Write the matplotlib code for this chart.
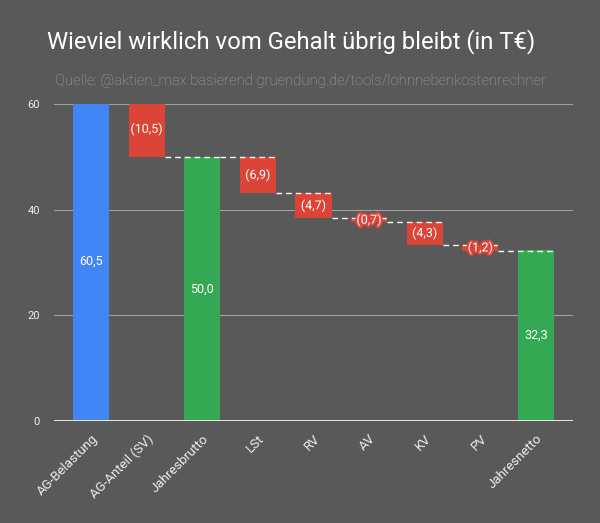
import matplotlib
matplotlib.use("Agg")
import matplotlib.pyplot as plt
import matplotlib.patheffects as pe

categories = ["AG-Belastung", "AG-Anteil (SV)", "Jahresbrutto", "LSt", "RV", "AV", "KV", "PV", "Jahresnetto"]
values = [60.5, -10.5, 50.0, -6.9, -4.7, -0.7, -4.3, -1.2, 32.3]
kinds = ["total_blue", "delta", "total", "delta", "delta", "delta", "delta", "delta", "total"]
yticks = [0, 20, 40, 60]

BG = "#595959"
BLUE = "#4285F4"
RED = "#DB4437"
GREEN = "#34A853"

plt.rcParams['font.family'] = ['Roboto', 'DejaVu Sans']

fig = plt.figure(figsize=(6.0, 5.23), dpi=100, facecolor=BG)
ax = fig.add_axes([54/600, 102/523, 519/600, 317/523], facecolor=BG)

w = 0.65
level = 0.0
bottoms, heights, colors = [], [], []
for v, k in zip(values, kinds):
    if k.startswith("total"):
        bottoms.append(0.0)
        heights.append(v)
        colors.append(BLUE if k == "total_blue" else GREEN)
        level = v
    else:
        bottoms.append(level + v)
        heights.append(-v)
        colors.append(RED)
        level = level + v

xs = list(range(len(categories)))
ax.bar(xs, heights, bottom=bottoms, width=w, color=colors, zorder=3)

# connectors
level_prev = None
for i in range(len(values)):
    end_level = bottoms[i] if kinds[i] == "delta" else heights[i]
    if i > 0:
        ax.plot([xs[i-1] + w/2, xs[i] + w/2], [level_prev, level_prev],
                color="white", lw=1.0, ls=(0, (4, 3)), zorder=4)
    level_prev = end_level

# labels
for i, (v, k) in enumerate(zip(values, kinds)):
    txt = f"{abs(v):.1f}".replace(".", ",")
    if k == "delta":
        txt = f"({txt})"
    ymid = bottoms[i] + heights[i] / 2
    ymid = min(ymid, 60)
    t = ax.text(xs[i], ymid, txt, ha="center", va="center", color="white",
                fontsize=9, zorder=6)
    if k == "delta":
        t.set_path_effects([pe.withStroke(linewidth=3, foreground=RED)])

ax.set_xlim(-0.665, len(categories) - 1 + 0.665)
ax.set_ylim(0, 60)
ax.set_yticks(yticks)
ax.set_yticklabels([str(t) for t in yticks], color="#eeeeee", fontsize=8)
for t in yticks[1:]:
    ax.axhline(t, color="#a0a0a0", lw=0.8, zorder=1)
ax.axhline(0, color="white", lw=1.2, zorder=5)
ax.set_xticks(xs)
ax.set_xticklabels(categories, rotation=45, ha="right", rotation_mode="anchor",
                   color="#eeeeee", fontsize=9.5)
ax.tick_params(axis="both", length=0)
ax.tick_params(axis="x", pad=8)
ax.tick_params(axis="y", pad=10)
for s in ax.spines.values():
    s.set_visible(False)

fig.text(47/600, 1 - 42/523, "Wieviel wirklich vom Gehalt übrig bleibt (in T€)",
         ha="left", va="center", color="white", fontsize=17.2)
fig.text(55/600, 1 - 81/523, "Quelle: @aktien_max basierend gruendung.de/tools/lohnnebenkostenrechner",
         ha="left", va="center", color="#a6a6a6", fontsize=10.7, fontweight="light")

fig.savefig("out.png", dpi=100, facecolor=BG)
